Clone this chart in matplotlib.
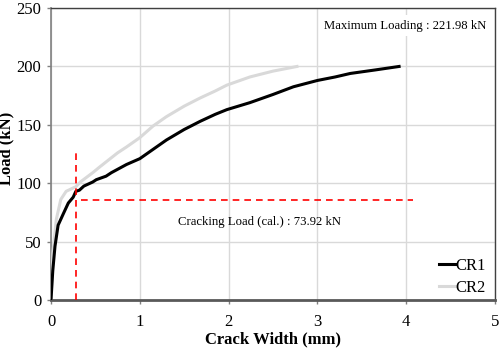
import matplotlib
matplotlib.use("Agg")
import matplotlib.pyplot as plt
from matplotlib.lines import Line2D

plt.rcParams['font.family'] = ['Liberation Serif', 'DejaVu Serif']

# CR1 (black)
cr1_x = [0.0, 0.02, 0.045, 0.08, 0.14, 0.195, 0.25, 0.28, 0.32, 0.37, 0.47, 0.51, 0.62, 0.68,
         0.85, 1.0, 1.15, 1.30, 1.50, 1.68, 1.85, 1.98, 2.24, 2.50, 2.73, 3.0, 3.2, 3.37, 3.65, 3.92]
cr1_y = [0, 25, 46, 64, 74, 83, 88, 93, 94, 97.5, 101, 103, 106, 109,
         116, 121, 129, 137, 146, 153, 159, 163, 169, 176, 182.6, 188, 191, 194, 197, 200]

# CR2 (light gray)
cr2_x = [0.0, 0.02, 0.06, 0.11, 0.17, 0.28, 0.33, 0.40, 0.47, 0.55, 0.65, 0.75, 0.85, 1.0, 1.15,
         1.30, 1.50, 1.68, 1.85, 1.98, 2.24, 2.50, 2.77]
cr2_y = [0, 40, 69, 86, 93, 97, 101, 105, 109, 114, 120, 126, 131, 139, 149,
         157, 166, 173, 179, 184, 191, 196, 200]

crack_x = 0.28
crack_load = 86
vline_top = 129
hline_x = [0.34, 4.08]

x_ticks = [0, 1, 2, 3, 4, 5]
y_ticks = [0, 50, 100, 150, 200, 250]

fig = plt.figure(figsize=(5.0, 3.52), dpi=100)
ax = fig.add_axes([0.102, 0.148, 0.888, 0.829])

ax.grid(True, color='#d9d9d9', linewidth=1.0)
ax.set_axisbelow(True)

ax.plot(cr2_x, cr2_y, color='#d9d9d9', linewidth=2.2, label='CR2', zorder=3)
ax.plot(cr1_x, cr1_y, color='black', linewidth=2.2, label='CR1', zorder=4)

ax.plot([crack_x, crack_x], [0, vline_top], color='red', linestyle=(0, (4, 3)), linewidth=1.2, zorder=5)
ax.plot(hline_x, [crack_load, crack_load], color='red', linestyle=(0, (4, 3)), linewidth=1.2, zorder=5)

ax.set_xlim(0, 5)
ax.set_ylim(0, 250)
ax.set_xticks(x_ticks)
ax.set_yticks(y_ticks)
ax.tick_params(axis='both', labelsize=12, length=3, color='#808080', width=1)
ax.tick_params(axis='x', pad=7)
ax.tick_params(axis='y', pad=4)

for s in ['top', 'right']:
    ax.spines[s].set_color('#404040')
    ax.spines[s].set_linewidth(1.0)
ax.spines['left'].set_color('#808080')
ax.spines['left'].set_linewidth(1.2)
ax.spines['bottom'].set_color('#595959')
ax.spines['bottom'].set_linewidth(2.0)

ax.set_xlabel('Crack Width (mm)', fontsize=12, fontweight='bold', va='center')
ax.set_ylabel('Load (kN)', fontsize=12, fontweight='bold', va='center')
ax.xaxis.set_label_coords(0.5, -0.137)
ax.yaxis.set_label_coords(-0.1, 0.52)

ax.text(3.99, 235, 'Maximum Loading : 221.98 kN', fontsize=9.2, ha='center', va='center',
        bbox=dict(facecolor='white', edgecolor='none', pad=3), zorder=6)
ax.text(2.35, 67, 'Cracking Load (cal.) : 73.92 kN', fontsize=9.2, ha='center', va='center', zorder=6)

handles = [Line2D([], [], color='black', linewidth=2.2), Line2D([], [], color='#d9d9d9', linewidth=2.2)]
leg = ax.legend(handles, ['CR1', 'CR2'], loc='lower right', bbox_to_anchor=(0.995, -0.01),
                frameon=False, fontsize=12,
                handlelength=1.0, handletextpad=0.0, borderaxespad=0.0, labelspacing=0.35)

fig.savefig('out.png', dpi=100)
